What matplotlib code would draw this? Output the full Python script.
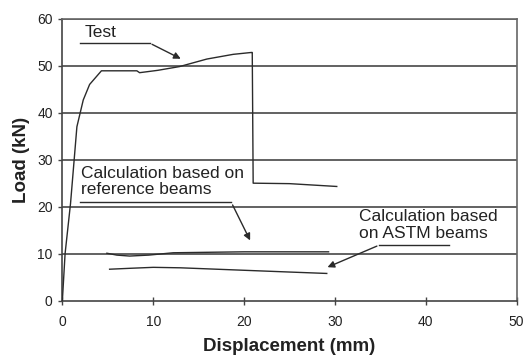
import matplotlib
matplotlib.use("Agg")
import matplotlib.pyplot as plt

plt.rcParams["font.family"] = ["Liberation Sans", "DejaVu Sans"]

# Load-displacement curves (displacement in mm, load in kN)
test_disp = [0, 0.3, 0.9, 1.3, 1.6, 2.3, 3.0, 4.3, 6.0, 8.2, 8.5, 10.5, 12.9, 15.9, 18.8, 20.8, 20.9, 21.0, 25.0, 30.2]
test_load = [0, 10, 20.7, 30, 37, 42.7, 46, 48.9, 48.9, 48.9, 48.5, 49.0, 49.8, 51.4, 52.4, 52.8, 52.8, 25.0, 24.9, 24.3]

ref_disp = [4.9, 6.0, 7.4, 9.5, 12.2, 16.0, 20.0, 25.0, 29.3]
ref_load = [10.1, 9.7, 9.5, 9.7, 10.2, 10.3, 10.4, 10.4, 10.4]

astm_disp = [5.2, 7.5, 10.0, 13.0, 17.0, 21.0, 25.0, 29.1]
astm_load = [6.7, 6.9, 7.1, 7.0, 6.7, 6.4, 6.1, 5.8]

x_ticks = [0, 10, 20, 30, 40, 50]
y_ticks = [0, 10, 20, 30, 40, 50, 60]

line_col = "#2b2b2b"
grid_col = "#555555"

fig = plt.figure(figsize=(5.24, 3.58), dpi=100)
ax = fig.add_axes([0.119, 0.160, 0.867, 0.788])

for y in y_ticks[1:]:
    ax.axhline(y, color=grid_col, lw=1.3, zorder=1)

ax.plot(test_disp, test_load, color=line_col, lw=1.0, zorder=3)
ax.plot(ref_disp, ref_load, color=line_col, lw=1.0, zorder=3)
ax.plot(astm_disp, astm_load, color=line_col, lw=1.0, zorder=3)

ax.set_xlim(0, 50)
ax.set_ylim(0, 60)
ax.set_xticks(x_ticks)
ax.set_yticks(y_ticks)

for s in ["top", "right"]:
    ax.spines[s].set_color("#666666")
    ax.spines[s].set_linewidth(1.2)
for s in ["left", "bottom"]:
    ax.spines[s].set_color("#444444")
    ax.spines[s].set_linewidth(1.2)

ax.tick_params(axis="x", direction="inout", length=6, width=1, colors="#444444",
               labelcolor="#222222", labelsize=10, pad=7)
ax.tick_params(axis="y", direction="out", length=3, width=1, colors="#444444",
               labelcolor="#222222", labelsize=10, pad=4)

ax.set_xlabel("Displacement (mm)", fontsize=13.5, fontweight="bold", color="#222222", labelpad=7)
ax.set_ylabel("Load (kN)", fontsize=13.5, fontweight="bold", color="#222222", labelpad=5)

txt_kw = dict(fontsize=12.5, color="#222222", zorder=5)
arrow_kw = dict(arrowstyle="-|>", color=line_col, lw=1.0, mutation_scale=10)

# "Test" label with leader line
ax.text(2.5, 57.1, "Test", ha="left", va="center", **txt_kw)
ax.plot([1.95, 9.6], [54.8, 54.8], color=line_col, lw=1.0, zorder=4)
ax.annotate("", xy=(13.3, 51.2), xytext=(9.6, 54.8), arrowprops=arrow_kw)

# Reference beams label
ax.text(2.0, 25.4, "Calculation based on\nreference beams", ha="left", va="center",
        linespacing=1.1, **txt_kw)
ax.plot([1.95, 18.6], [20.9, 20.9], color=line_col, lw=1.0, zorder=4)
ax.annotate("", xy=(20.8, 12.3), xytext=(18.6, 20.9), arrowprops=arrow_kw)

# ASTM beams label
ax.text(32.7, 16.1, "Calculation based\non ASTM beams", ha="left", va="center",
        linespacing=1.1, **txt_kw)
ax.plot([34.9, 42.6], [11.85, 11.85], color=line_col, lw=1.0, zorder=4)
ax.annotate("", xy=(28.9, 6.9), xytext=(34.9, 11.85), arrowprops=arrow_kw)

fig.savefig("out.png", dpi=100)
